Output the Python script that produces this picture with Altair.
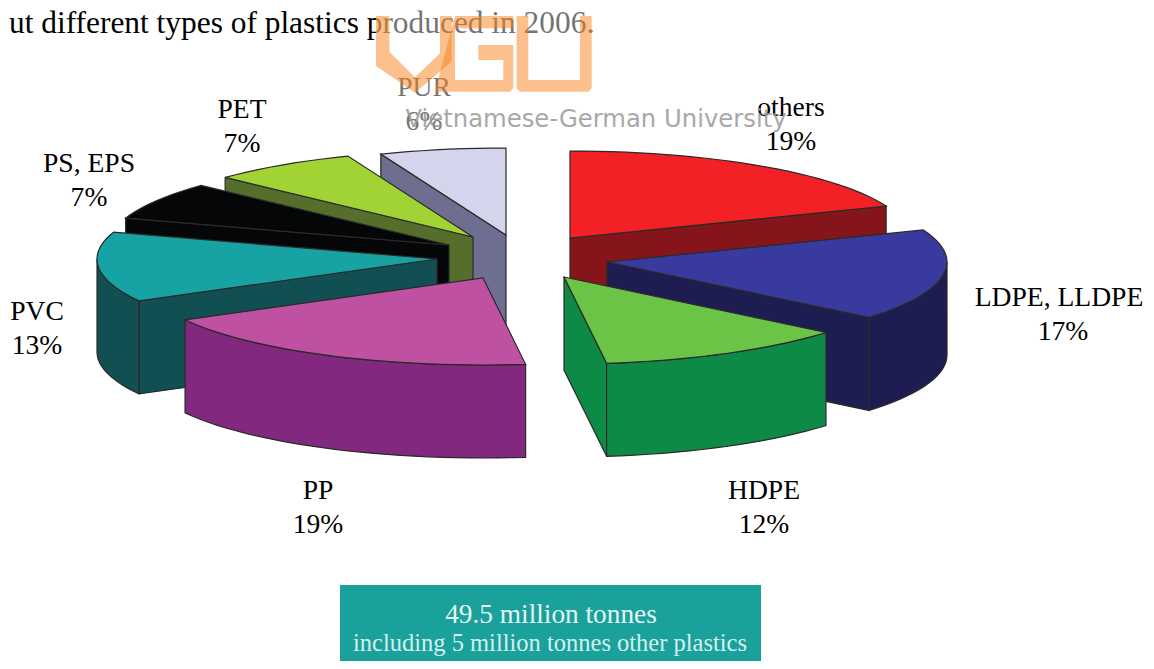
import math
import altair as alt
import pandas as pd

# ---- chart values ----
categories = ["others", "LDPE, LLDPE", "HDPE", "PP", "PVC", "PS, EPS", "PET", "PUR"]
shares = [19, 17, 12, 19, 13, 7, 7, 6]
headline = "ut different types of plastics produced in 2006."
total_lines = ["49.5 million tonnes", "including 5 million tonnes other plastics"]
watermark = "Vietnamese-German University"

# ---- layout and style, kept apart from the values ----
RX, RY, DEPTH = 340, 87, 93
apex_x = [570, 607, 564, 483, 437, 449, 473, 506]
apex_y = [238, 262, 277, 278, 259, 245, 237, 235]
top_colors = ["#f32026", "#393a9e", "#6cc447", "#bf51a2", "#17a3a3", "#040608", "#a2d334", "#d4d4ec"]
wall_colors = ["#85151a", "#1e1d52", "#0e8a47", "#82287f", "#124f52", "#040608", "#566e2c", "#6d6e90"]
paint_order = [7, 6, 5, 0, 4, 1, 2, 3]
label_x = [791, 1059, 764, 318, 37, 89, 242, 424]
label_y = [108, 298, 491, 491, 312, 164, 110, 88]
value_x_shift = [0, 4, 0, 0, 0, 0, 0, 0]
value_dy = 34

X_SCALE = alt.Scale(domain=[8, 1146], nice=False, zero=False)
Y_SCALE = alt.Scale(domain=[661, 8], nice=False, zero=False)
X = alt.X("x:Q", scale=X_SCALE, axis=None)
Y = alt.Y("y:Q", scale=Y_SCALE, axis=None)
X2, Y2 = alt.X2("x2:Q"), alt.Y2("y2:Q")


def polygon(xs, ys, fill, stroke="#2a2a2a", width=1.2, opacity=None):
    df = pd.DataFrame({"x": xs, "y": ys, "i": range(len(xs))})
    kw = {} if opacity is None else {"opacity": opacity}
    return alt.Chart(df).mark_line(
        interpolate="linear-closed", fill=fill, stroke=stroke, strokeWidth=width, **kw
    ).encode(x=X, y=Y, order="i:Q")


def arc(k, a0, a1):
    n = max(6, int((a1 - a0) / 0.04))
    angles = [a0 + (a1 - a0) * j / n for j in range(n + 1)]
    xs = [apex_x[k] + RX * math.sin(a) for a in angles]
    ys = [apex_y[k] - RY * math.cos(a) for a in angles]
    return xs, ys


def wall_faces_viewer(ax, ay, ex, ey, mx, my):
    """The wall under an edge shows only when the slice lies above that edge."""
    if abs(ex - ax) < 1e-6:
        return False
    return my < ay + (ey - ay) * (mx - ax) / (ex - ax)


def slice_layers(k):
    start = sum(shares[:k]) / sum(shares) * 2 * math.pi
    end = sum(shares[: k + 1]) / sum(shares) * 2 * math.pi
    xs, ys = arc(k, start, end)
    mx, my = xs[len(xs) // 2], ys[len(ys) // 2]
    ax, ay = apex_x[k], apex_y[k]
    wall = wall_colors[k]
    out = []
    for ex, ey in ((xs[0], ys[0]), (xs[-1], ys[-1])):
        if wall_faces_viewer(ax, ay, ex, ey, mx, my):
            out.append(polygon([ax, ex, ex, ax], [ay, ey, ey + DEPTH, ay + DEPTH], wall))
    # only the front half of the rim can be seen
    lo, hi = max(start, math.pi / 2), min(end, 3 * math.pi / 2)
    if hi > lo:
        rx, ry = arc(k, lo, hi)
        out.append(polygon(rx + rx[::-1], ry + [y + DEPTH for y in ry[::-1]], wall))
    out.append(polygon([ax] + xs, [ay] + ys, top_colors[k]))
    return out


layers = []
for k in paint_order:
    layers += slice_layers(k)


def texts(rows, size, color="#000000", font="Liberation Serif", opacity=1):
    df = pd.DataFrame(rows, columns=["x", "y", "t"])
    return alt.Chart(df).mark_text(
        font=font, fontSize=size, color=color, opacity=opacity, baseline="middle", align="center"
    ).encode(x=X, y=Y, text="t:N")


label_rows = []
for k, name in enumerate(categories):
    label_rows.append((label_x[k], label_y[k], name))
    label_rows.append((label_x[k] + value_x_shift[k], label_y[k] + value_dy, f"{shares[k]}%"))
layers.append(texts(label_rows, 27.6))

head = alt.Chart(pd.DataFrame({"x": [9], "y": [24], "t": [headline]})).mark_text(
    font="Liberation Serif", fontSize=31.4, color="#000000", baseline="middle", align="left"
).encode(x=X, y=Y, text="t:N")
layers.append(head)

# teal panel with the total
layers.append(
    alt.Chart(pd.DataFrame({"x": [340], "x2": [761], "y": [585], "y2": [661]}))
    .mark_rect(color="#1ba19c")
    .encode(x=X, x2=X2, y=Y, y2=Y2)
)
layers.append(texts([(551, 615, total_lines[0])], 27.3, "#e4f6f3"))
layers.append(texts([(550, 644, total_lines[1])], 24.5, "#d4f0ec"))

# veil and logo of the watermark
layers.append(
    alt.Chart(pd.DataFrame({"x": [376], "x2": [592], "y": [8], "y2": [138]}))
    .mark_rect(color="#ffffff", opacity=0.45)
    .encode(x=X, x2=X2, y=Y, y2=Y2)
)
LOGO = "#f78219"


def logo_poly(zx, zy):
    return polygon([340 + v / 3 for v in zx], [v / 3 for v in zy], LOGO, stroke=LOGO, width=0, opacity=0.5)


layers.append(logo_poly([108, 148, 148, 225, 300, 300, 335, 335, 225, 108],
                        [48, 48, 155, 232, 160, 48, 48, 185, 278, 198]))
layers.append(logo_poly([345, 520, 520, 345, 345, 490, 490, 415, 415, 520, 520, 510, 285],
                        [48, 48, 85, 85, 240, 240, 180, 180, 135, 135, 265, 275, 275]))
layers.append(logo_poly([530, 565, 565, 720, 720, 755, 755, 745, 540, 530],
                        [48, 48, 240, 240, 48, 48, 265, 275, 275, 265]))
layers.append(texts([(596, 120, watermark)], 24.3, "#9a9a9a", font="DejaVu Sans", opacity=0.85))

chart = (
    alt.layer(*layers)
    .properties(width=1138, height=653, padding=0, autosize=alt.AutoSizeParams(type="none"),
                background="#ffffff")
    .configure_view(stroke=None)
)
chart.save("out.html", embed_options={"renderer": "svg", "actions": False})
